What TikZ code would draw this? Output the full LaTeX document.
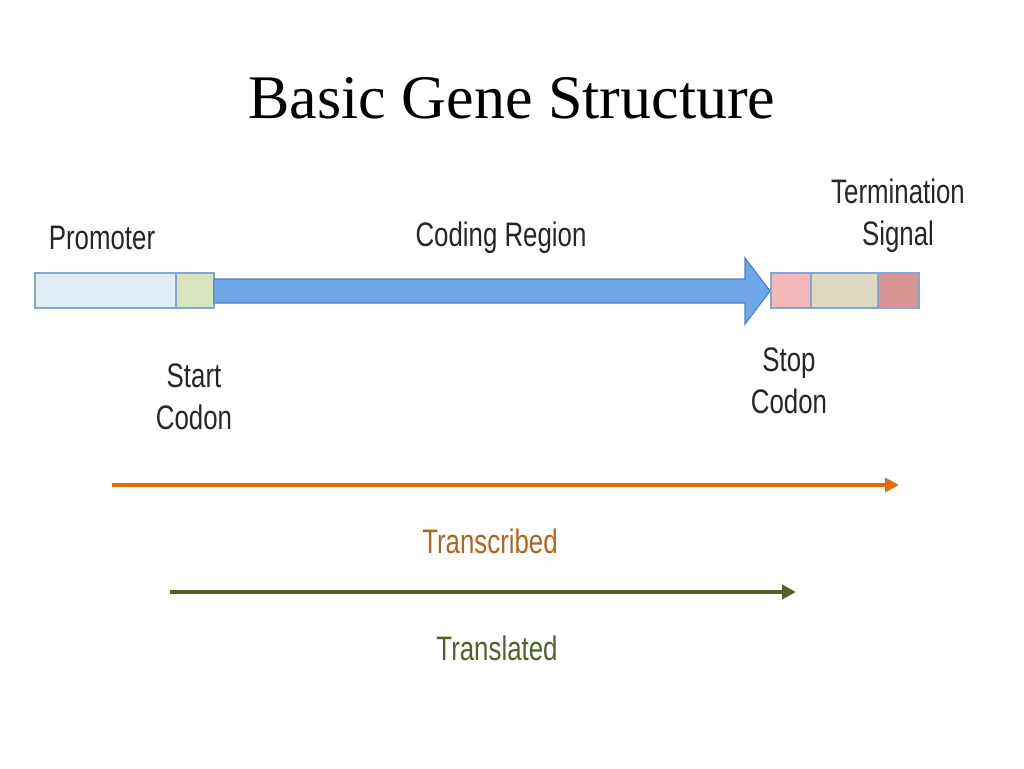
\documentclass[tikz,border=0pt]{standalone}
\usepackage{fontspec}
\setmainfont{Liberation Serif}
\newfontfamily\lab{Liberation Sans}
\usetikzlibrary{arrows.meta}
\definecolor{promo}{HTML}{DDEFF5}
\definecolor{startc}{HTML}{D7E4BD}
\definecolor{codef}{HTML}{6FA8E8}
\definecolor{codeb}{HTML}{4F81BD}
\definecolor{stopc}{HTML}{F2B8B8}
\definecolor{midc}{HTML}{DDD9C3}
\definecolor{endc}{HTML}{D99594}
\definecolor{orng}{HTML}{E36C0A}
\definecolor{trtext}{HTML}{B0651F}
\definecolor{grn}{HTML}{4F6228}
\begin{document}
\begin{tikzpicture}[x=1pt,y=-1pt,
  box/.style={draw=codeb!70,line width=1.2pt},
  lbl/.style={font=\lab\fontsize{34}{42}\selectfont,xscale=0.76,align=center,text=black!85},
  arr/.style={line width=4pt,-{Triangle[length=14pt,width=14pt]}}]
\useasboundingbox (0,0) rectangle (1024,768);
\node (title) at (512,98) {\fontsize{62}{70}\selectfont Basic Gene Structure};
\draw[box,fill=promo] (35,273) rectangle (176,308);
\draw[box,fill=startc] (176,273) rectangle (214,308);
\draw[draw=codeb,line width=1.2pt,fill=codef] (214,279) -- (745,279) -- (745,258) -- (770,291) -- (745,324) -- (745,303) -- (214,303) -- cycle;
\draw[box,fill=stopc] (771,273) rectangle (811,308);
\draw[box,fill=midc] (811,273) rectangle (878,308);
\draw[box,fill=endc] (878,273) rectangle (919,308);
\node[lbl] (promoter) at (102,238) {Promoter};
\node[lbl] (coding) at (501,238) {Coding Region};
\node[lbl] (term) at (898,216) {Termination\\Signal};
\node[lbl] (start) at (194,397) {Start\\Codon};
\node[lbl] (stop) at (789,381) {Stop\\Codon};
\coordinate (o1) at (112,485); \coordinate (o2) at (899,485);
\draw[arr,orng] (o1) -- (o2);
\node[lbl,text=trtext] (tr) at (490,541) {Transcribed};
\coordinate (g1) at (170,592); \coordinate (g2) at (796,592);
\draw[arr,grn] (g1) -- (g2);
\node[lbl,text=grn] (tl) at (497,648) {Translated};
\end{tikzpicture}
\end{document}
